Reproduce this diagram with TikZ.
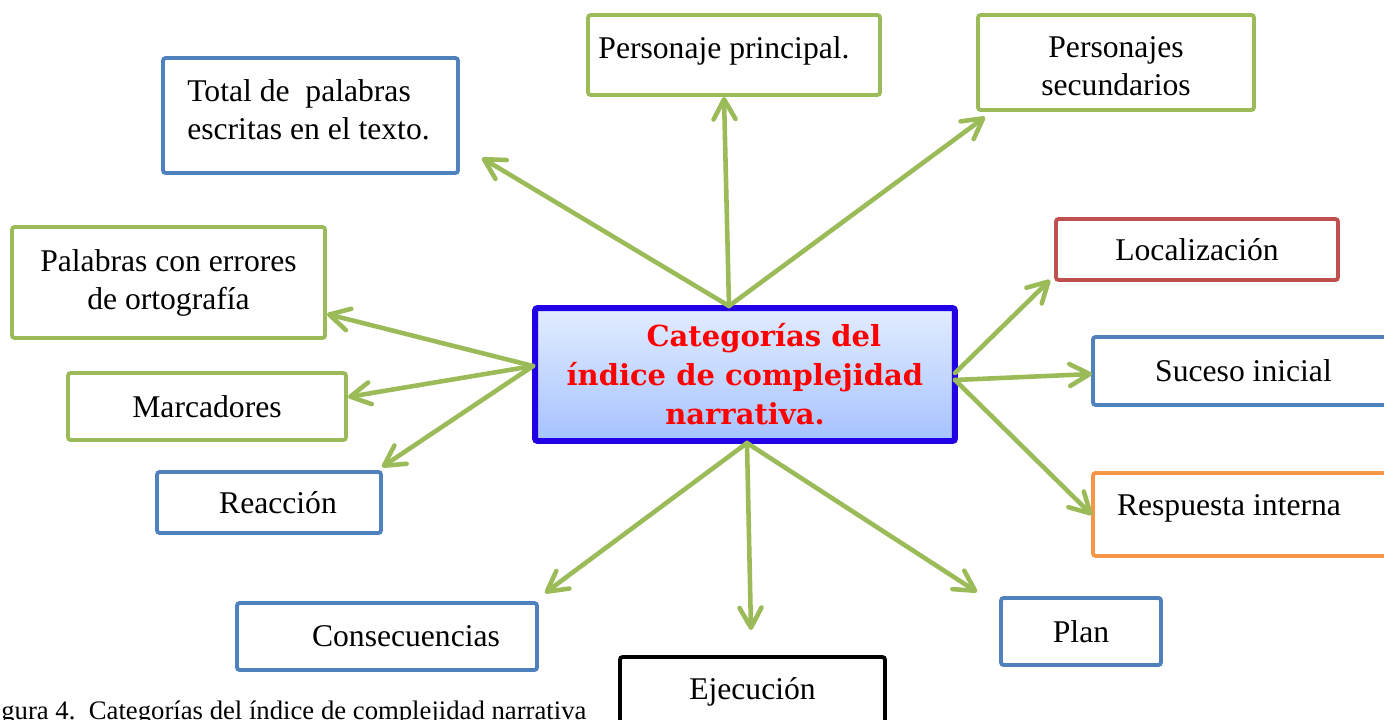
\documentclass[tikz,border=0pt]{standalone}
\usepackage{fontspec}
\setmainfont{Liberation Serif}
\newfontfamily\titulofont{DejaVu Serif}
\usepackage{xcolor}
\usetikzlibrary{arrows.meta,shadows}
\definecolor{cajaazul}{HTML}{4F81BD}
\definecolor{cajaverde}{HTML}{9BBB59}
\definecolor{cajaroja}{HTML}{C0504D}
\definecolor{cajanaranja}{HTML}{F79646}
\definecolor{flechaverde}{HTML}{9BBB59}
\definecolor{centroborde}{HTML}{2200E6}
\definecolor{centroarriba}{HTML}{E2ECFF}
\definecolor{centroabajo}{HTML}{A6C3FF}
\definecolor{titulorojo}{HTML}{FF0000}
% moves a label inside its box without changing the box
\newcommand{\corre}[3]{\raisebox{#2}[\height][\depth]{\hspace*{#1}#3\hspace*{-#1}}}

\begin{document}
\begin{tikzpicture}[x=0.02cm, y=-0.02cm,
  caja/.style={draw, line width=2.2pt, rounded corners=1.5pt, inner sep=0pt,
    align=center, text=black, font=\fontsize{18}{21.6}\selectfont},
  flecha/.style={flechaverde, line width=2.6pt, line cap=round,
    -{Straight Barb[length=0.4cm, width=0.44cm, round]}}]
  % 1 unit = 1 pixel of the 1384x720 figure, y grows downwards
  \useasboundingbox (0,0) rectangle (1384,720);

  % Central box
  \node[draw=centroborde, line width=3.4pt, rounded corners=1.5pt,
    top color=centroarriba, bottom color=centroabajo,
    drop shadow={opacity=0.3, shadow xshift=1.5pt, shadow yshift=-1.5pt},
    minimum width=8.4cm, minimum height=2.66cm, align=center, text=titulorojo,
    font=\titulofont\bfseries\fontsize{16.5}{22.2}\selectfont] (centro) at (745,374.5)
    {\hspace*{1.3em}Categorías del\\índice de complejidad\\narrativa.};

  % Upper boxes
  \node[caja, draw=cajaverde, minimum width=5.84cm, minimum height=1.6cm] (principal) at (734,55)
    {\corre{-0.2cm}{0.08cm}{Personaje principal.}};
  \node[caja, draw=cajaverde, minimum width=5.52cm, minimum height=1.9cm] (secundarios) at (1116,62.5)
    {\corre{0cm}{-0.12cm}{\begin{tabular}{@{}c@{}}Personajes\\secundarios\end{tabular}}};
  \node[caja, draw=cajaazul, minimum width=5.9cm, minimum height=2.3cm] (total) at (310.5,115.5)
    {\corre{-0.04cm}{0.06cm}{\begin{tabular}{@{}l@{}}Total de\ \ palabras\\escritas en el texto.\end{tabular}}};

  % Left boxes
  \node[caja, draw=cajaverde, minimum width=6.26cm, minimum height=2.22cm] (errores) at (168.5,282.5)
    {Palabras con errores\\de ortografía};
  \node[caja, draw=cajaverde, minimum width=5.56cm, minimum height=1.34cm] (marcadores) at (207,406.5)
    {Marcadores};
  \node[caja, draw=cajaazul, minimum width=4.48cm, minimum height=1.22cm] (reaccion) at (269,502.5)
    {\corre{0.18cm}{0cm}{Reacción}};

  % Lower boxes
  \node[caja, draw=cajaazul, minimum width=6cm, minimum height=1.34cm] (consecuencias) at (387,636.5)
    {\corre{0.38cm}{0cm}{Consecuencias}};
  \node[caja, draw=black, minimum width=5.3cm, minimum height=1.4cm] (ejecucion) at (752.5,692)
    {Ejecución};
  \node[caja, draw=cajaazul, minimum width=3.2cm, minimum height=1.34cm] (plan) at (1081,631.5)
    {Plan};

  % Right boxes
  \node[caja, draw=cajaroja, minimum width=5.64cm, minimum height=1.22cm] (localizacion) at (1197,249.5)
    {Localización};
  \node[caja, draw=cajaazul, minimum width=6.14cm, minimum height=1.36cm] (suceso) at (1246.5,371)
    {\corre{-0.06cm}{0cm}{Suceso inicial}};
  \node[caja, draw=cajanaranja, minimum width=6.14cm, minimum height=1.66cm] (respuesta) at (1246.5,514.5)
    {\corre{-0.35cm}{0.13cm}{Respuesta interna}};

  % Arrow starts on the central box
  \coordinate (c-arriba) at (729,306);
  \coordinate (c-izq) at (533,366);
  \coordinate (c-der) at (955,373);
  \coordinate (c-der2) at (955,380);
  \coordinate (c-abajo) at (747,443);

  % Arrow tips
  \coordinate (p-principal) at (724,97);
  \coordinate (p-secundarios) at (985,117);
  \coordinate (p-total) at (482,158);
  \coordinate (p-errores) at (327,314);
  \coordinate (p-marcadores) at (348,397);
  \coordinate (p-reaccion) at (382,467);
  \coordinate (p-localizacion) at (1050,280);
  \coordinate (p-suceso) at (1092,374);
  \coordinate (p-respuesta) at (1092,515);
  \coordinate (p-consecuencias) at (545,593);
  \coordinate (p-ejecucion) at (751,630);
  \coordinate (p-plan) at (977,592);

  \foreach \a/\b in {c-arriba/p-principal, c-arriba/p-secundarios, c-arriba/p-total,
    c-izq/p-errores, c-izq/p-marcadores, c-izq/p-reaccion,
    c-der/p-localizacion, c-der2/p-suceso, c-der2/p-respuesta,
    c-abajo/p-consecuencias, c-abajo/p-ejecucion, c-abajo/p-plan}
    \draw[flecha] (\a) -- (\b);

  % Caption, cut by the page edge
  \node[anchor=base west, inner sep=0pt, font=\fontsize{15.2}{17}\selectfont] (pie) at (1,719)
    {gura 4.\ \ Categorías del índice de complejidad narrativa};
\end{tikzpicture}
\end{document}
